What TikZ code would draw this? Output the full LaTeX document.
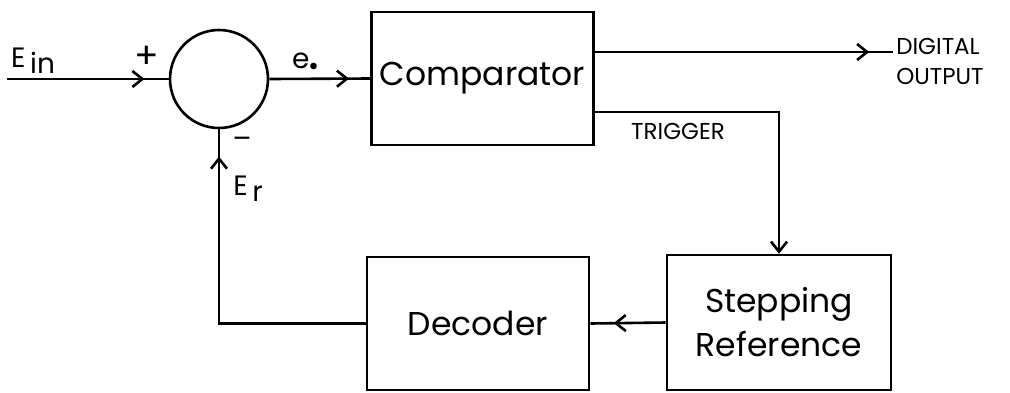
\documentclass[tikz,border=0pt]{standalone}
\usepackage{fontspec}
\setmainfont{Poppins}
\usetikzlibrary{arrows.meta, calc, decorations.markings}

\begin{document}
\begin{tikzpicture}[x=0.5pt, y=-0.5pt, >={Straight Barb[length=5pt,width=8pt]},
  line width=1.3pt,
  block/.style = {draw, minimum width=111pt, minimum height=66.5pt,
                  align=center, font=\fontsize{16.5}{22}\selectfont},
  sumnode/.style = {draw, circle, minimum size=49pt, inner sep=0pt},
  lbl/.style   = {font=\fontsize{14}{16}\selectfont, inner sep=1pt},
  caps/.style  = {font=\fontsize{11.5}{15}\selectfont, inner sep=1pt},
  midarrow/.style = {postaction={decorate},
                     decoration={markings, mark=at position #1 with {\arrow{>}}}}
]
  \useasboundingbox (0,0) rectangle (1010,392);

  \node[sumnode] (sum)  at (219,79)    {};
  \node[block]   (comp) at (482.5,78.5) {Comparator};
  \node[block]   (dec)  at (478,323.5)  {Decoder};
  \node[block, minimum width=112pt, minimum height=67.5pt]
                 (step) at (779,322.5)  {Stepping\\Reference};

  \coordinate (in)   at (7,79);
  \coordinate (dout) at (893,52);
  \coordinate (trig) at (779,112);

  %% labels
  \node[lbl] (ein)   at (33,61)   {E\,\raisebox{-3pt}{in}};
  \node[lbl, font=\fontsize{18}{18}\selectfont] (plus) at (147,57) {+};
  \node[lbl] (eo)    at (305,62)  {e\raisebox{-1pt}{\fontsize{8}{8}\selectfont$\bullet$}};
  \node[lbl] (minus) at (242,143) {--};
  \node[lbl] (er)    at (248,189) {E\,\raisebox{-3pt}{r}};
  \node[caps, anchor=west, align=left] (out) at (893,61) {DIGITAL\\OUTPUT};
  \node[caps] (tlbl) at (678,131) {TRIGGER};

  %% forward path
  \draw[midarrow=0.85] (in) -- (sum.west);
  \draw[midarrow=0.79] (sum.east) -- (comp.west);
  \draw[midarrow=0.92] (comp.east |- dout) -- (dout);

  %% trigger
  \draw[->] (comp.east |- trig) -| (step.north);

  %% feedback path
  \draw[midarrow=0.69] (step.west) -- (dec.east);
  \draw[midarrow=0.92] (dec.west) -| (sum.south);
\end{tikzpicture}
\end{document}
